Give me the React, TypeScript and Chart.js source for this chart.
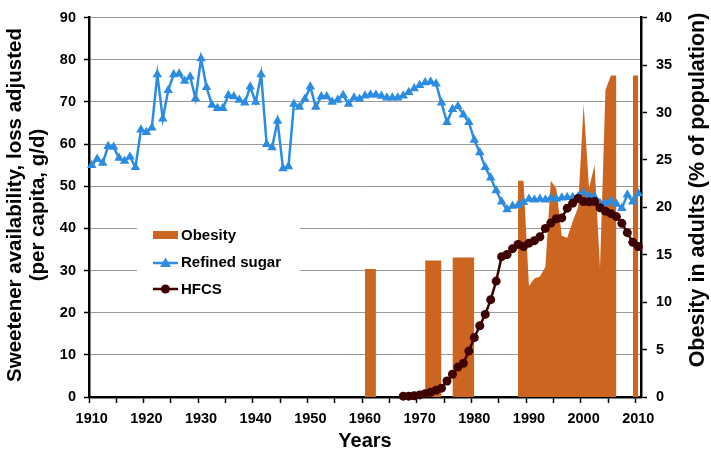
import React, { useEffect, useRef } from 'react';
import { Chart, registerables } from 'chart.js';

Chart.register(...registerables);

// ---------- data ----------
const FIRST_YEAR = 1910;
const LAST_YEAR = 2010;
const years: number[] = Array.from({ length: LAST_YEAR - FIRST_YEAR + 1 }, (_, i) => FIRST_YEAR + i);

// Refined sugar, g/d per capita, 1910..2010 (left axis)
const sugarValues: number[] = [
  55.0, 56.5, 55.5, 59.5, 59.3, 56.7, 56.0, 57.0, 54.5, 63.4, // 1910-1919
  62.8, 63.9, 76.5, 66.0, 72.8, 76.5, 76.7, 75.0, 76.0, 70.8, // 1920-1929
  80.3, 73.5, 69.3, 68.5, 68.5, 71.6, 71.3, 70.5, 69.8, 73.6, // 1930-1939
  70.0, 76.5, 60.0, 59.2, 65.5, 54.2, 54.7, 69.5, 68.8, 70.7, // 1940-1949
  73.6, 68.8, 71.3, 71.3, 70.0, 70.5, 71.6, 69.5, 71.0, 70.7, // 1950-1959
  71.5, 71.7, 71.7, 71.4, 71.0, 71.0, 71.0, 71.5, 72.3, 73.2, // 1960-1969
  74.0, 74.6, 74.8, 74.3, 69.8, 65.2, 68.3, 69.0, 67.0, 65.2, // 1970-1979
  61.0, 58.0, 54.5, 52.0, 49.0, 46.3, 44.5, 45.3, 45.5, 46.2, // 1980-1989
  47.0, 46.8, 47.0, 46.8, 47.2, 47.0, 47.3, 47.4, 47.4, 47.6, // 1990-1999
  48.5, 47.7, 47.5, 46.0, 46.0, 46.5, 45.8, 44.8, 48.0, 46.3, // 2000-2009
  48.3, // 2010
];

// HFCS, g/d per capita, 1967..2010 (left axis)
const HFCS_FIRST_YEAR = 1967;
const hfcsValues: number[] = [
  0.2, 0.2, 0.3, // 1967-1969
  0.5, 0.8, 1.1, 1.6, 2.1, 3.8, 5.4, 7.1, 8.0, 10.9, // 1970-1979
  14.1, 16.9, 19.6, 23.1, 27.5, 33.3, 33.8, 35.2, 36.2, 35.7, // 1980-1989
  36.5, 37.1, 38.0, 40.0, 41.3, 42.3, 42.5, 44.8, 46.0, 47.1, // 1990-1999
  46.4, 46.3, 46.4, 44.9, 44.1, 43.5, 42.8, 41.2, 39.0, 36.7, // 2000-2009
  35.7, // 2010
];

// Obesity in adults, % of population (right axis); years without data are gaps
const obesityYears: number[] = [
  1960, 1961, 1962,
  1971, 1972, 1973, 1974,
  1976, 1977, 1978, 1979, 1980,
  1988, 1989, 1990, 1991, 1992, 1993, 1994, 1995, 1996, 1997, 1998, 1999,
  2000, 2001, 2002, 2003, 2004, 2005, 2006,
  2009, 2010,
];
const obesityValues: number[] = [
  13.5, 13.5, 13.5,
  14.4, 14.4, 14.4, 14.4,
  14.7, 14.7, 14.7, 14.7, 14.7,
  22.8, 22.8, 11.7, 12.5, 12.7, 13.7, 22.8, 22.0, 17.0, 16.8, 18.5, 20.0,
  30.9, 22.0, 24.5, 13.6, 32.4, 33.9, 33.9,
  33.9, 33.9,
];

const leftTicks: number[] = [0, 10, 20, 30, 40, 50, 60, 70, 80, 90];
const rightTicks: number[] = [0, 5, 10, 15, 20, 25, 30, 35, 40];

const seriesNames = ['Obesity', 'Refined sugar', 'HFCS'];
const leftTitle = ['Sweetener availability, loss adjusted', '(per capita, g/d)'];
const rightTitle = 'Obesity in adults (% of population)';
const xTitle = 'Years';

// ---------- styles ----------
const ORANGE = '#CB651F';
const BLUE = '#2C8CE2';
const DARK = '#3E0000';
const FONT_FAMILY = '"Liberation Sans", Arial, Helvetica, sans-serif';

const sugarData = years.map((_, i) => sugarValues[i]);
const hfcsData = years.map((y) => (y >= HFCS_FIRST_YEAR ? hfcsValues[y - HFCS_FIRST_YEAR] : null));
const obesityData = years.map((y) => {
  const k = obesityYears.indexOf(y);
  return k >= 0 ? obesityValues[k] : null;
});

const overlayPlugin = {
  id: 'overlay',
  afterDraw(chart: any) {
    const ctx: CanvasRenderingContext2D = chart.ctx;
    ctx.save();

    // legend box
    ctx.fillStyle = '#ffffff';
    ctx.fillRect(137, 212, 163, 90);
    ctx.font = `bold 15px ${FONT_FAMILY}`;
    ctx.textBaseline = 'middle';
    ctx.textAlign = 'left';

    const sx0 = 153;
    const sx1 = 178;
    const tx = 181;
    // Obesity
    ctx.fillStyle = ORANGE;
    ctx.fillRect(sx0, 231, sx1 - sx0, 8);
    ctx.fillStyle = '#000';
    ctx.fillText(seriesNames[0], tx, 236);
    // Refined sugar
    ctx.strokeStyle = BLUE;
    ctx.lineWidth = 2.5;
    ctx.beginPath();
    ctx.moveTo(sx0, 263);
    ctx.lineTo(sx1, 263);
    ctx.stroke();
    ctx.fillStyle = BLUE;
    ctx.beginPath();
    const cx = (sx0 + sx1) / 2;
    ctx.moveTo(cx, 257.5);
    ctx.lineTo(cx + 5.5, 267);
    ctx.lineTo(cx - 5.5, 267);
    ctx.closePath();
    ctx.fill();
    ctx.fillStyle = '#000';
    ctx.fillText(seriesNames[1], tx, 263);
    // HFCS
    ctx.strokeStyle = DARK;
    ctx.beginPath();
    ctx.moveTo(sx0, 289);
    ctx.lineTo(sx1, 289);
    ctx.stroke();
    ctx.fillStyle = DARK;
    ctx.beginPath();
    ctx.arc(cx, 289, 4.5, 0, Math.PI * 2);
    ctx.fill();
    ctx.fillStyle = '#000';
    ctx.fillText(seriesNames[2], tx, 290);

    // axis titles
    ctx.fillStyle = '#000';
    ctx.textAlign = 'center';
    ctx.textBaseline = 'middle';
    ctx.font = `bold 20px ${FONT_FAMILY}`;
    ctx.fillText(xTitle, 365, 441);

    ctx.save();
    ctx.translate(15, 205);
    ctx.rotate(-Math.PI / 2);
    ctx.font = `bold 20.5px ${FONT_FAMILY}`;
    ctx.fillText(leftTitle[0], 0, 0);
    ctx.restore();

    ctx.save();
    ctx.translate(38, 205);
    ctx.rotate(-Math.PI / 2);
    ctx.font = `bold 20.5px ${FONT_FAMILY}`;
    ctx.fillText(leftTitle[1], 0, 0);
    ctx.restore();

    ctx.save();
    ctx.translate(698, 190);
    ctx.rotate(-Math.PI / 2);
    ctx.font = `bold 21.5px ${FONT_FAMILY}`;
    ctx.fillText(rightTitle, 0, 0);
    ctx.restore();

    ctx.restore();
  },
};

export default function App() {
  const canvasRef = useRef<HTMLCanvasElement | null>(null);

  useEffect(() => {
    if (!canvasRef.current) return;
    const tickFont = { family: FONT_FAMILY, size: 14.5, weight: 'bold' as const };
    const chart = new Chart(canvasRef.current, {
      type: 'line',
      data: {
        labels: years.map(String),
        datasets: [
          {
            label: seriesNames[2],
            data: hfcsData,
            yAxisID: 'y',
            borderColor: DARK,
            backgroundColor: DARK,
            borderWidth: 2.5,
            pointStyle: 'circle',
            pointRadius: 4.5,
            pointBorderWidth: 0,
            pointBackgroundColor: DARK,
            tension: 0,
            fill: false,
            spanGaps: false,
            clip: false,
            order: 1,
          },
          {
            label: seriesNames[1],
            data: sugarData,
            yAxisID: 'y',
            borderColor: BLUE,
            backgroundColor: BLUE,
            borderWidth: 2.5,
            pointStyle: 'triangle',
            pointRadius: 5.5,
            pointBorderWidth: 0,
            pointBackgroundColor: BLUE,
            tension: 0,
            fill: false,
            clip: false,
            order: 2,
          },
          {
            label: seriesNames[0],
            data: obesityData,
            yAxisID: 'y1',
            borderColor: ORANGE,
            backgroundColor: ORANGE,
            borderWidth: 0,
            pointRadius: 0,
            tension: 0,
            fill: 'origin',
            spanGaps: false,
            order: 3,
          },
        ],
      },
      options: {
        responsive: false,
        animation: false,
        devicePixelRatio: 1,
        layout: { padding: { top: 8, left: 0, right: 0, bottom: 0 } },
        plugins: {
          legend: { display: false },
          tooltip: { enabled: false },
        },
        scales: {
          x: {
            type: 'category',
            offset: true,
            grid: {
              display: true,
              drawOnChartArea: false,
              offset: true,
              drawTicks: true,
              tickLength: 6,
              tickWidth: 1.5,
              tickColor: (c: any) =>
                typeof c.index === 'number' && c.index % 5 === 0 ? '#000' : 'rgba(0,0,0,0)',
            },
            border: { display: true, color: '#000', width: 2.5 },
            ticks: {
              autoSkip: false,
              maxRotation: 0,
              minRotation: 0,
              padding: 7,
              color: '#000',
              font: tickFont,
              callback: (_v: any, i: number) => (years[i] % 10 === 0 ? String(years[i]) : ''),
            },
            afterFit: (s: any) => {
              s.height = 63;
            },
          },
          y: {
            position: 'left',
            min: leftTicks[0],
            max: leftTicks[leftTicks.length - 1],
            afterBuildTicks: (s: any) => {
              s.ticks = leftTicks.map((v) => ({ value: v }));
            },
            ticks: { padding: 8, color: '#000', font: tickFont },
            grid: {
              color: '#9a9a9a',
              lineWidth: 1,
              drawTicks: true,
              tickLength: 5,
              tickColor: '#000',
              tickWidth: 1.5,
            },
            border: { display: true, color: '#000', width: 2.5 },
            afterFit: (s: any) => {
              s.width = 89;
            },
          },
          y1: {
            position: 'right',
            min: rightTicks[0],
            max: rightTicks[rightTicks.length - 1],
            afterBuildTicks: (s: any) => {
              s.ticks = rightTicks.map((v) => ({ value: v }));
            },
            ticks: { padding: 9, color: '#000', font: tickFont },
            grid: {
              drawOnChartArea: false,
              drawTicks: true,
              tickLength: 6,
              tickColor: '#000',
              tickWidth: 1.5,
            },
            border: { display: true, color: '#000', width: 2.5 },
            afterFit: (s: any) => {
              s.width = 70;
            },
          },
        },
      },
      plugins: [overlayPlugin],
    } as any);
    return () => chart.destroy();
  }, []);

  return (
    <div style={{ position: 'fixed', left: 0, top: 0, width: 711, height: 460, background: '#fff' }}>
      <canvas ref={canvasRef} width={711} height={460} style={{ width: 711, height: 460, display: 'block' }} />
    </div>
  );
}
